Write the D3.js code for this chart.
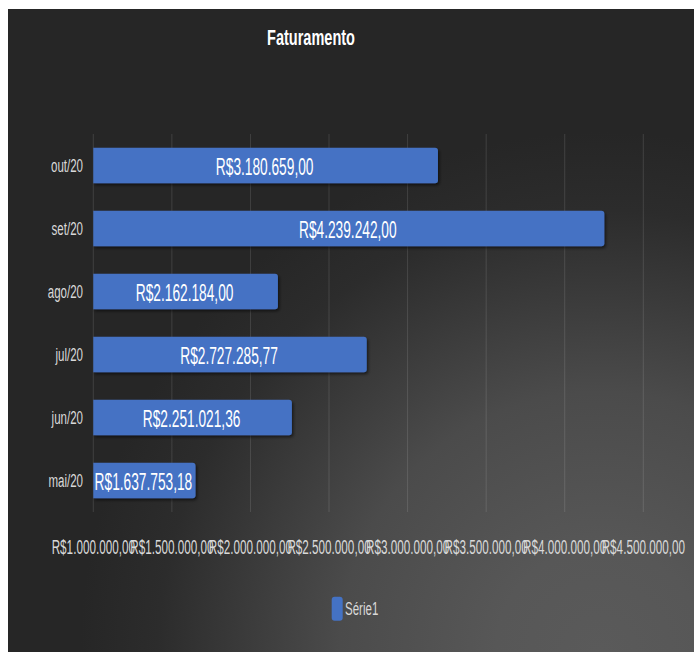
<!DOCTYPE html>
<html>
<head>
<meta charset="utf-8">
<script src="https://cdn.jsdelivr.net/npm/d3@7"></script>
<style>
  html, body { margin: 0; padding: 0; background: #ffffff; }
  svg { display: block; }
</style>
</head>
<body>
<script>
const categories = ["mai/20", "jun/20", "jul/20", "ago/20", "set/20", "out/20"];
const values = [1637753.18, 2251021.36, 2727285.77, 2162184.00, 4239242.00, 3180659.00];
const valueLabels = ["R$1.637.753,18", "R$2.251.021,36", "R$2.727.285,77", "R$2.162.184,00", "R$4.239.242,00", "R$3.180.659,00"];
const tickValues = [1000000, 1500000, 2000000, 2500000, 3000000, 3500000, 4000000, 4500000];
const tickLabels = ["R$1.000.000,00", "R$1.500.000,00", "R$2.000.000,00", "R$2.500.000,00", "R$3.000.000,00", "R$3.500.000,00", "R$4.000.000,00", "R$4.500.000,00"];
const seriesName = "Série1";
const title = "Faturamento";

const W = 694, H = 652;
const FONT = "'Liberation Sans', Arial, sans-serif";

const svg = d3.select("body").append("svg").attr("width", W).attr("height", H);
const defs = svg.append("defs");

const grad = defs.append("radialGradient").attr("id", "bg")
  .attr("gradientUnits", "userSpaceOnUse")
  .attr("cx", 600).attr("cy", 652).attr("r", 520);
grad.append("stop").attr("offset", 0).attr("stop-color", "#5a5a5a");
grad.append("stop").attr("offset", 0.2).attr("stop-color", "#575757");
grad.append("stop").attr("offset", 0.5).attr("stop-color", "#4b4b4b");
grad.append("stop").attr("offset", 0.85).attr("stop-color", "#2c2c2c");
grad.append("stop").attr("offset", 1).attr("stop-color", "#262626");

const shadow = defs.append("filter").attr("id", "shadow")
  .attr("x", "-10%").attr("y", "-30%").attr("width", "130%").attr("height", "180%");
shadow.append("feDropShadow").attr("dx", 1.5).attr("dy", 2).attr("stdDeviation", 1.8)
  .attr("flood-color", "#000").attr("flood-opacity", 0.55);

svg.append("rect").attr("x", 8).attr("y", 9).attr("width", W - 8).attr("height", H - 9)
  .attr("fill", "url(#bg)");

const x = d3.scaleLinear().domain([1000000, 4500000]).range([93.3, 643.3]);
const y = d3.scaleBand().domain(categories.slice().reverse()).range([134, 512])
  .paddingInner(0.44).paddingOuter(0.22);

// gridlines
svg.append("g").selectAll("line").data(tickValues).join("line")
  .attr("x1", d => x(d)).attr("x2", d => x(d))
  .attr("y1", 134).attr("y2", 512)
  .attr("stroke", "#ffffff").attr("stroke-opacity", 0.12).attr("stroke-width", 1);

function stext(parent, px, py, str, opts) {
  const g = parent.append("g").attr("transform", `translate(${px},${py})`);
  g.append("text")
    .attr("transform", `scale(${opts.sx},1)`)
    .attr("text-anchor", opts.anchor || "middle")
    .attr("dominant-baseline", "central")
    .attr("font-family", FONT)
    .attr("font-size", opts.size)
    .attr("font-weight", opts.weight || "normal")
    .attr("fill", opts.fill)
    .text(str);
  return g;
}

// bars with rounded right corners
function barPath(x0, y0, x1, h, r) {
  r = Math.min(r, (x1 - x0) / 2, h / 2);
  return `M${x0},${y0}H${x1 - r}Q${x1},${y0} ${x1},${y0 + r}V${y0 + h - r}Q${x1},${y0 + h} ${x1 - r},${y0 + h}H${x0}Z`;
}
const data = categories.map((c, i) => ({ c, v: values[i], lab: valueLabels[i] }));
svg.append("g").selectAll("path").data(data).join("path")
  .attr("d", d => barPath(x(1000000), y(d.c), x(d.v) + 2, y.bandwidth(), 3))
  .attr("fill", "#4472c4")
  .attr("filter", "url(#shadow)");

// value labels
const vl = svg.append("g");
data.forEach(d => {
  stext(vl, (x(1000000) + x(d.v)) / 2, y(d.c) + y.bandwidth() / 2 + 0.5, d.lab,
    { sx: 0.56, size: 24.5, fill: "#ffffff" });
});

// y labels
const yl = svg.append("g");
categories.forEach(c => {
  stext(yl, 83, y(c) + y.bandwidth() / 2, c, { sx: 0.64, size: 18, fill: "#d9d9d9", anchor: "end" });
});

// x tick labels
const xl = svg.append("g");
tickValues.forEach((t, i) => {
  stext(xl, x(t), 547, tickLabels[i], { sx: 0.6, size: 19.5, fill: "#d9d9d9" });
});

// title
stext(svg, 311, 37, title, { sx: 0.66, size: 22, weight: "bold", fill: "#ffffff" });

// legend
svg.append("rect").attr("x", 331.7).attr("y", 596.7).attr("width", 11).attr("height", 24)
  .attr("rx", 3).attr("fill", "#4472c4");
stext(svg, 345, 608.5, seriesName, { sx: 0.64, size: 18, fill: "#d9d9d9", anchor: "start" });
</script>
</body>
</html>
